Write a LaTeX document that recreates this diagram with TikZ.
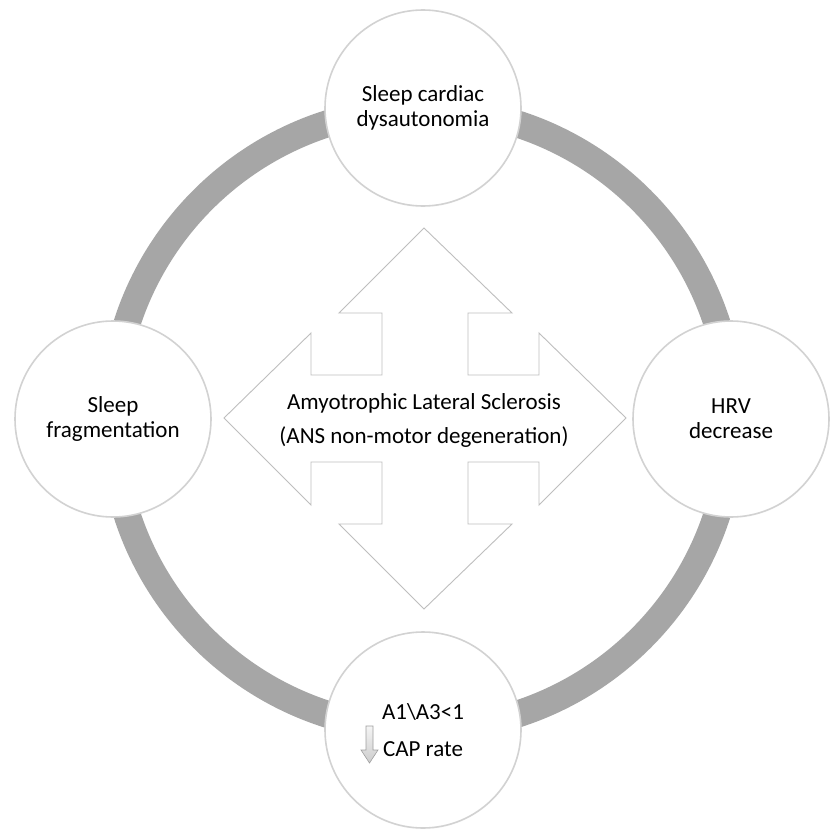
\documentclass[tikz,border=0pt]{standalone}
\usepackage{fontspec}
\setmainfont{Carlito}
\usetikzlibrary{shadows}
\definecolor{ringgray}{HTML}{A6A6A6}
\definecolor{edgegray}{HTML}{D2D2D2}
\definecolor{arrowgray}{HTML}{BEBEBE}
\begin{document}
\begin{tikzpicture}[x=1pt,y=-1pt,
  bubble/.style={circle, minimum size=196pt, inner sep=0pt, fill=white,
    draw=edgegray, line width=1.6pt, align=center,
    font=\fontsize{23}{25}\selectfont, text=black,
    circular drop shadow={opacity=0.22, shadow xshift=0pt, shadow yshift=-1.5pt, shadow scale=1.0}},
  bigarrow/.style={draw=arrowgray, line width=0.9pt, fill=white},
  centertext/.style={align=center, font=\fontsize{23}{25}\selectfont, text=black},
  smallarrow/.style={draw=gray!75, line width=0.6pt, top color=gray!8, bottom color=gray!40}]
\useasboundingbox (0,0) rectangle (831,832);
\fill[white] (0,0) rectangle (831,832);
% ring
\draw[ringgray, line width=27pt] (422,419) circle[radius=310];
% four-way arrow
\draw[bigarrow] (424,228) -- (512,313) -- (468,313) -- (468,375) -- (539,375) -- (539,333)
  -- (626,418) -- (539,505) -- (539,462) -- (468,462) -- (468,524) -- (512,524)
  -- (424,609) -- (339,524) -- (382,524) -- (382,462) -- (311,462) -- (311,505)
  -- (224,418) -- (311,333) -- (311,375) -- (382,375) -- (382,313) -- (339,313) -- cycle;
\node[centertext] (als) at (424,420) {Amyotrophic Lateral Sclerosis\\[9pt](ANS non-motor degeneration)};
% circles
\node[bubble] (top) at (423,108) {Sleep cardiac\\dysautonomia};
\node[bubble] (left) at (113,419) {Sleep\\fragmentation};
\node[bubble] (right) at (731,419) {HRV\\decrease};
\node[bubble] (bottom) at (423,730) {A1\textbackslash A3<1\\[12pt]CAP rate};
% small down arrow
\draw[smallarrow] (366,726) -- (373,726) -- (373,750) -- (378,750) -- (369.5,763)
  -- (361,750) -- (366,750) -- cycle;
\end{tikzpicture}
\end{document}
